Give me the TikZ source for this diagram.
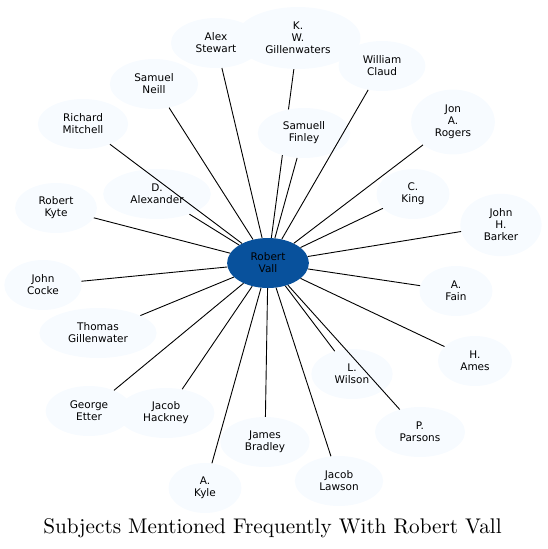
\documentclass[tikz,border=0pt]{standalone}
\usepackage{fontspec}
\newfontfamily\namefont{DejaVu Sans}
\usetikzlibrary{shapes.geometric,backgrounds}
\definecolor{vallblue}{HTML}{08519C}
\definecolor{palefill}{HTML}{F7FBFF}

\begin{document}
\begin{tikzpicture}[x=1pt,y=-1pt,
  person/.style={ellipse,fill=palefill,align=center,inner xsep=11.5pt,inner ysep=6pt,
    minimum width=73pt,minimum height=50pt,font=\namefont\fontsize{10.5}{12}\selectfont},
  link/.style={line width=0.9pt}]

\useasboundingbox (0,0) rectangle (547,549);

% the people
\node[person,fill=vallblue] (vall) at (268,263) {Robert\\Vall};
\node[person] (stewart) at (216,43) {Alex\\Stewart};
\node[person] (kwg) at (298,38) {K.\\W.\\Gillenwaters};
\node[person] (claud) at (382,66) {William\\Claud};
\node[person] (neill) at (154,84) {Samuel\\Neill};
\node[person] (finley) at (304,133) {Samuell\\Finley};
\node[person] (rogers) at (453,122) {Jon\\A.\\Rogers};
\node[person] (mitchell) at (83,124) {Richard\\Mitchell};
\node[person] (alexander) at (157,194) {D.\\Alexander};
\node[person] (king) at (413,194) {C.\\King};
\node[person] (kyte) at (56,208) {Robert\\Kyte};
\node[person] (barker) at (501,225) {John\\H.\\Barker};
\node[person] (cocke) at (43,285) {John\\Cocke};
\node[person] (fain) at (456,291) {A.\\Fain};
\node[person] (thomasg) at (98,333) {Thomas\\Gillenwater};
\node[person] (ames) at (475,361) {H.\\Ames};
\node[person] (wilson) at (352,374) {L.\\Wilson};
\node[person] (etter) at (89,411) {George\\Etter};
\node[person] (hackney) at (166,413) {Jacob\\Hackney};
\node[person] (parsons) at (420,432) {P.\\Parsons};
\node[person] (bradley) at (265,442) {James\\Bradley};
\node[person] (lawson) at (339,481) {Jacob\\Lawson};
\node[person] (akyle) at (205,488) {A.\\Kyle};

% links from Robert Vall
\begin{scope}[on background layer]
\draw[link] (vall) -- (kwg);
\end{scope}
\draw[link] (vall) -- (stewart) (vall) -- (claud) (vall) -- (neill)
  (vall) -- (finley) (vall) -- (rogers) (vall) -- (mitchell)
  (vall) -- (alexander) (vall) -- (king) (vall) -- (kyte)
  (vall) -- (barker) (vall) -- (cocke) (vall) -- (fain)
  (vall) -- (thomasg) (vall) -- (ames) (vall) -- (wilson)
  (vall) -- (etter) (vall) -- (hackney) (vall) -- (parsons)
  (vall) -- (bradley) (vall) -- (lawson) (vall) -- (akyle);

\node[anchor=base,scale=2.12,font=\fontsize{10}{12}\selectfont] (title) at (272.5,533)
  {Subjects Mentioned Frequently With Robert Vall};

\end{tikzpicture}
\end{document}
